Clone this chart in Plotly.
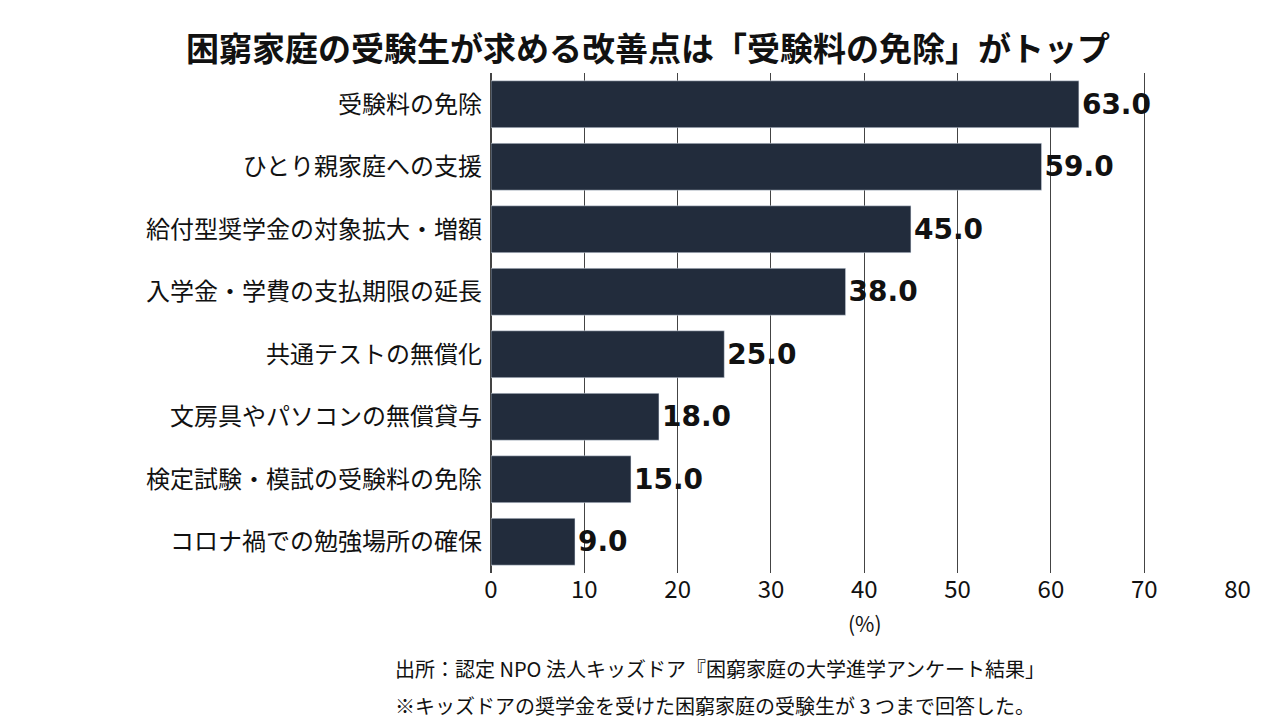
import plotly.graph_objects as go

categories = ["受験料の免除", "ひとり親家庭への支援", "給付型奨学金の対象拡大・増額",
              "入学金・学費の支払期限の延長", "共通テストの無償化", "文房具やパソコンの無償貸与",
              "検定試験・模試の受験料の免除", "コロナ禍での勉強場所の確保"]
values = [63.0, 59.0, 45.0, 38.0, 25.0, 18.0, 15.0, 9.0]
tick_vals = [0, 10, 20, 30, 40, 50, 60, 70, 80]

font = "Noto Sans CJK JP"

fig = go.Figure(go.Bar(
    x=values, y=categories, orientation="h",
    marker=dict(color="#222c3c"), width=0.75,
    text=[f"{v:.1f}" for v in values], textposition="outside",
    textfont=dict(size=28, color="#111", family="DejaVu Sans", weight="bold"),
    cliponaxis=False,
))

fig.update_layout(
    width=1280, height=720,
    margin=dict(l=483, r=50, t=65, b=155),
    plot_bgcolor="white", paper_bgcolor="white",
    font=dict(family=font, color="#111"),
    showlegend=False,
    title=dict(text="<b>困窮家庭の受験生が求める改善点は「受験料の免除」がトップ</b>",
               x=0.5, xanchor="center", y=0.958, font=dict(size=33, family=font)),
    xaxis=dict(range=[0, 80.05], tickvals=tick_vals, showgrid=True, gridcolor="#444",
               gridwidth=1, zeroline=True, zerolinecolor="#444",
               tickfont=dict(size=24), ticks="", showline=False),
    yaxis=dict(autorange="reversed", tickfont=dict(size=24), ticks="",
               ticklabelstandoff=8),
    annotations=[
        dict(text="(%)", x=0.5, xref="paper", y=-0.1, yref="paper", xanchor="center",
             yanchor="middle", showarrow=False, font=dict(size=21)),
        dict(text="出所：認定 NPO 法人キッズドア『困窮家庭の大学進学アンケート結果」",
             x=385, xref="paper", y=660, yref="paper", showarrow=False),
        dict(text="※キッズドアの奨学金を受けた困窮家庭の受験生が 3 つまで回答した。",
             x=385, xref="paper", y=697, yref="paper", showarrow=False),
    ],
)

# place source notes in pixel coordinates relative to plot area
pw, ph = 1280 - 483 - 50, 720 - 65 - 155
for a in fig.layout.annotations[1:]:
    px, py = a.x, a.y
    a.x = (px - 483) / pw
    a.y = 1 - (py - 65) / ph
    a.xanchor = "left"
    a.yanchor = "middle"
    a.font = dict(size=20)

fig.write_html("out.html")
